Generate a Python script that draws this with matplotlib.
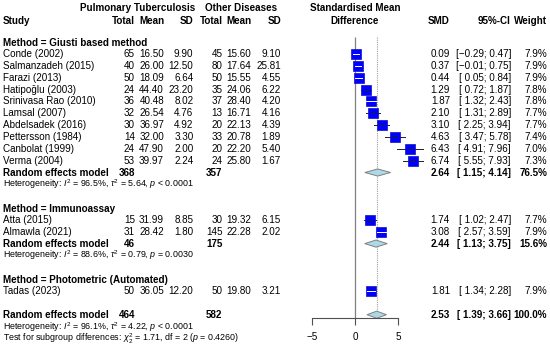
#!/usr/bin/env python3
"""
Forest plot of standardised mean differences, pulmonary TB vs other diseases,
grouped by assay method.
"""

import matplotlib
matplotlib.use("Agg")
import matplotlib.pyplot as plt
from matplotlib.transforms import blended_transform_factory

# Study level data
studies = ["Conde (2002)", "Salmanzadeh (2015)", "Farazi (2013)", "Hatipoğlu (2003)",
           "Srinivasa Rao (2010)", "Lamsal (2007)", "Abdelsadek (2016)", "Pettersson (1984)",
           "Canbolat (1999)", "Verma (2004)", "Atta (2015)", "Almawla (2021)", "Tadas (2023)"]
study_group = [0, 0, 0, 0, 0, 0, 0, 0, 0, 0, 1, 1, 2]
tb_n = [65, 40, 50, 24, 36, 32, 30, 14, 24, 53, 15, 31, 50]
tb_mean = [16.50, 26.00, 18.09, 44.40, 40.48, 26.54, 36.97, 32.00, 47.90, 39.97, 31.99, 28.42, 36.05]
tb_sd = [9.90, 12.50, 6.64, 23.20, 8.02, 4.76, 4.92, 3.30, 2.00, 2.24, 8.85, 1.80, 12.20]
ot_n = [45, 80, 50, 35, 37, 13, 20, 33, 20, 24, 30, 145, 50]
ot_mean = [15.60, 17.64, 15.55, 24.06, 28.40, 16.71, 22.13, 20.78, 22.20, 25.80, 19.32, 22.28, 19.80]
ot_sd = [9.10, 25.81, 4.55, 6.22, 4.20, 4.16, 4.39, 1.89, 5.40, 1.67, 6.15, 2.02, 3.21]
smd = [0.09, 0.37, 0.44, 1.29, 1.87, 2.10, 3.10, 4.63, 6.43, 6.74, 1.74, 3.08, 1.81]
ci_lo = [-0.29, -0.01, 0.05, 0.72, 1.32, 1.31, 2.25, 3.47, 4.91, 5.55, 1.02, 2.57, 1.34]
ci_hi = [0.47, 0.75, 0.84, 1.87, 2.43, 2.89, 3.94, 5.78, 7.96, 7.93, 2.47, 3.59, 2.28]
weight = [7.9, 7.9, 7.9, 7.8, 7.8, 7.7, 7.7, 7.4, 7.0, 7.3, 7.7, 7.9, 7.9]

# Subgroups (the single-study group has no pooled row)
group_names = ["Method = Giusti based method", "Method = Immunoassay",
               "Method = Photometric (Automated)"]
group_smd = [2.64, 2.44, None]
group_lo = [1.15, 1.13, None]
group_hi = [4.14, 3.75, None]
group_weight = [76.5, 15.6, None]
group_tb_n = [368, 46, None]
group_ot_n = [357, 175, None]
group_i2 = ["96.5%", "88.6%", None]
group_tau2 = ["5.64", "0.79", None]
group_p = ["< 0.0001", "= 0.0030", None]

# Overall model
overall_smd, overall_lo, overall_hi = 2.53, 1.39, 3.66
overall_tb_n, overall_ot_n = 464, 582
overall_i2, overall_tau2, overall_p = "96.1%", "4.22", "< 0.0001"
subgroup_chi2, subgroup_df, subgroup_p = "1.71", "2", "0.4260"

xticks = [-5, 0, 5]

plt.rcParams['font.family'] = ['Liberation Sans', 'DejaVu Sans']
plt.rcParams['mathtext.fontset'] = 'custom'
plt.rcParams['mathtext.rm'] = 'Liberation Sans'
plt.rcParams['mathtext.it'] = 'Liberation Sans:italic'
plt.rcParams['mathtext.bf'] = 'Liberation Sans:bold'


def fmt(v, nd=2):
    return f"{v:.{nd}f}".replace("-", "\u2212")


def fmt_ci(lo, hi):
    return "[" + f"{lo:5.2f}".replace("-", "\u2212") + "; " + fmt(hi) + "]"


def draw_forest():
    W, H = 550, 346
    fig = plt.figure(figsize=(W / 100, H / 100), dpi=100)

    # layout in pixels: row 4 sits at y=54, rows 11.85 px apart
    row0_px, row_px = 54.0, 11.85
    axis_px = 318
    zero_px, unit_px = 355, 8.6

    ax = fig.add_axes([0, (H - axis_px) / H, 1, axis_px / H])
    ax.set_xlim(-zero_px / unit_px, (W - zero_px) / unit_px)
    ytop = 4 - row0_px / row_px
    ybot = 4 + (axis_px - row0_px) / row_px
    ax.set_ylim(ybot, ytop)

    tx = blended_transform_factory(fig.transFigure, ax.transData)
    fs, fs_small = 7.1, 6.4

    def put(px, row, s, ha='right', bold=False, size=fs):
        ax.text(px / W, row, s, transform=tx, ha=ha, va='center', fontsize=size,
                fontweight='bold' if bold else 'normal', clip_on=False)

    # column positions (right edges, px)
    c_study, c_tbn, c_tbm, c_tbs = 3, 135, 164, 193.5
    c_otn, c_otm, c_ots = 222.5, 251.5, 281
    c_smd, c_ci, c_w = 450, 511, 547

    # header
    h0, h1 = 0.15, 1.2
    put(137.5, h0, "Pulmonary Tuberculosis", ha='center', bold=True)
    put(241, h0, "Other Diseases", ha='center', bold=True)
    ax.text(0, h0, "Standardised Mean", ha='center', va='center', fontsize=fs, fontweight='bold')
    ax.text(0, h1, "Difference", ha='center', va='center', fontsize=fs, fontweight='bold')
    put(c_study, h1, "Study", ha='left', bold=True)
    for px, s in [(c_tbn, "Total"), (c_tbm, "Mean"), (c_tbs, "SD"), (c_otn, "Total"),
                  (c_otm, "Mean"), (c_ots, "SD"), (c_smd, "SMD"), (c_ci, "95%-CI"),
                  (c_w, "Weight")]:
        put(px, h1, s, bold=True)

    # reference lines
    ax.vlines(0, 2.6, ybot, color='#808080', lw=0.9, zorder=1)
    ax.vlines(overall_smd, 2.6, ybot, color='#a0a0a0', lw=0.8, linestyles=(0, (1, 1)), zorder=1)

    px_per_unit = W / (ax.get_xlim()[1] - ax.get_xlim()[0])

    row = 3.1
    for g, gname in enumerate(group_names):
        put(c_study, row, gname, ha='left', bold=True)
        row = round(row) + 1
        for i in range(len(studies)):
            if study_group[i] != g:
                continue
            put(c_study, row, studies[i], ha='left')
            put(c_tbn, row, str(tb_n[i]))
            put(c_tbm, row, fmt(tb_mean[i]))
            put(c_tbs, row, fmt(tb_sd[i]))
            put(c_otn, row, str(ot_n[i]))
            put(c_otm, row, fmt(ot_mean[i]))
            put(c_ots, row, fmt(ot_sd[i]))
            put(c_smd, row, fmt(smd[i]))
            put(c_ci, row, fmt_ci(ci_lo[i], ci_hi[i]))
            put(c_w, row, f"{weight[i]:.1f}%")

            # square sized by weight, CI line white when it fits inside
            side_px = 9.8 * (weight[i] / 7.9) ** 0.5
            ax.plot(smd[i], row, marker='s', ms=side_px * 0.72, mfc='#0000ff',
                    mec='#1010c0', mew=0.5, zorder=3)
            inside = (ci_hi[i] - ci_lo[i]) * px_per_unit < side_px
            ax.plot([ci_lo[i], ci_hi[i]], [row, row], color='white' if inside else '#202020',
                    lw=0.7, zorder=4 if inside else 2)
            if not inside:
                ax.plot([smd[i] - 2.5 / px_per_unit, smd[i] + 2.5 / px_per_unit], [row, row],
                        color='#202020', lw=0.7, zorder=4)
            row += 1

        if group_smd[g] is not None:
            put(c_study, row, "Random effects model", ha='left', bold=True)
            put(c_tbn, row, str(group_tb_n[g]), bold=True)
            put(c_otn, row, str(group_ot_n[g]), bold=True)
            put(c_smd, row, fmt(group_smd[g]), bold=True)
            put(c_ci, row, fmt_ci(group_lo[g], group_hi[g]), bold=True)
            put(c_w, row, f"{group_weight[g]:.1f}%", bold=True)
            ax.fill([group_lo[g], group_smd[g], group_hi[g], group_smd[g]],
                    [row, row - 0.3, row, row + 0.3], fc='#add8e6', ec='#808080',
                    lw=0.7, zorder=3)
            row += 1
            put(c_study, row, f"Heterogeneity: $I^2$ = {group_i2[g]}, $\\tau^2$ = "
                f"{group_tau2[g]}, $p$ {group_p[g]}", ha='left', size=fs_small)
            row += 1
        row += 1.1

    row = round(row)
    # overall
    put(c_study, row, "Random effects model", ha='left', bold=True)
    put(c_tbn, row, str(overall_tb_n), bold=True)
    put(c_otn, row, str(overall_ot_n), bold=True)
    put(c_smd, row, fmt(overall_smd), bold=True)
    put(c_ci, row, fmt_ci(overall_lo, overall_hi), bold=True)
    put(c_w, row, "100.0%", bold=True)
    ax.fill([overall_lo, overall_smd, overall_hi, overall_smd],
            [row, row - 0.3, row, row + 0.3], fc='#add8e6', ec='#808080', lw=0.7, zorder=3)
    put(c_study, row + 1.05, f"Heterogeneity: $I^2$ = {overall_i2}, $\\tau^2$ = {overall_tau2}, "
        f"$p$ {overall_p}", ha='left', size=fs_small)
    put(c_study, row + 2.02, f"Test for subgroup differences: $\\chi^2_{subgroup_df}$ = "
        f"{subgroup_chi2}, df = {subgroup_df} ($p$ = {subgroup_p})", ha='left', size=fs_small)

    # x axis
    for side in ['left', 'right', 'top']:
        ax.spines[side].set_visible(False)
    ax.spines['bottom'].set_bounds(xticks[0], xticks[-1])
    ax.spines['bottom'].set_color('#505050')
    ax.spines['bottom'].set_linewidth(0.8)
    ax.set_xticks(xticks)
    ax.set_yticks([])
    ax.tick_params(axis='x', length=5, width=0.8, color='#505050', labelsize=fs, pad=5)
    ax.patch.set_visible(False)

    fig.savefig("out.png", dpi=100)


if __name__ == "__main__":
    draw_forest()
